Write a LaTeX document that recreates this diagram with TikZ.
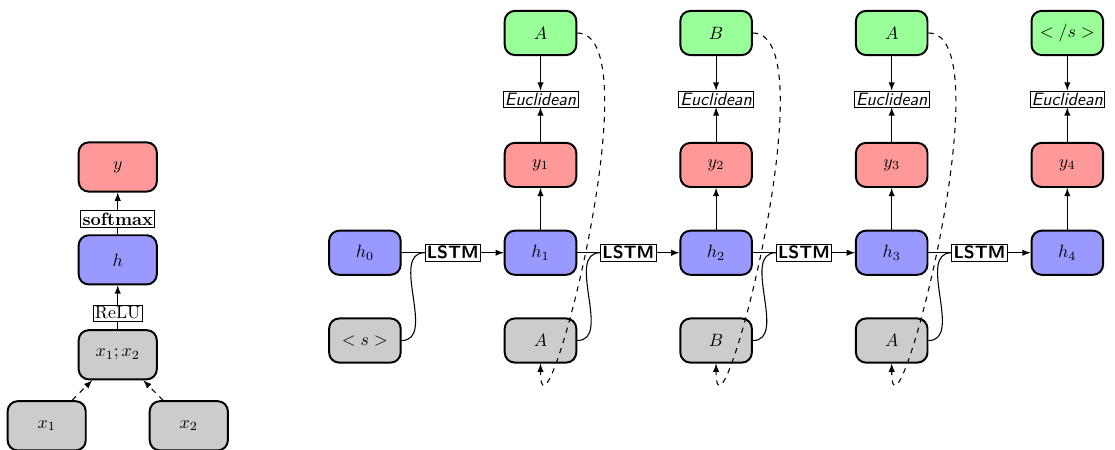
\documentclass[tikz,border=0pt]{standalone}
\usepackage{amsmath}
\usepackage{tikz}
\usetikzlibrary{positioning}

\begin{document}
\begin{tikzpicture}[>=latex,semithick,node distance=1.73cm,on grid,
    unit/.style={draw,line width=1.1pt,rounded corners=2mm,minimum width=1.41cm,minimum height=0.87cm},
    bigunit/.style={unit,minimum width=1.54cm,minimum height=0.97cm},
    hnode/.style={fill=blue!40},
    ynode/.style={fill=red!40},
    gnode/.style={fill=green!40},
    xnode/.style={fill=gray!40},
    lab/.style={draw,thin,fill=white,inner sep=1pt},
    lstm/.style={lab,font=\sffamily\bfseries},
    loss/.style={lab,font=\sffamily\itshape}]
   \useasboundingbox (-7.19,-3.88) rectangle (14.78,4.98);

   % feed-forward net
   \node[bigunit,xnode] (x_12) at (-4.87,-2.01) {$x_1;x_2$};
   \node[bigunit,hnode] (h) [above=1.87cm of x_12] {$h$};
   \node[bigunit,ynode] (y) [above=1.83cm of h] {$y$};
   \node[bigunit,xnode] (x_1) [below left=1.40cm and 1.40cm of x_12] {$x_1$};
   \node[bigunit,xnode] (x_2) [below right=1.40cm and 1.40cm of x_12] {$x_2$};

   \path[->]
    (x_1) edge[dashed] (x_12)
    (x_2) edge[dashed] (x_12)
    (x_12) edge node[lab,pos=0.37] {ReLU} (h)
    (h) edge node[lab,pos=0.37] {\textbf{softmax}} (y);

   % recurrent net
   \node[unit,hnode] (h_0) {$h_0$};
   \node[unit,xnode] (in_0) [below=of h_0] {$<s>$};
   \node[lstm] (l_1) [right=of h_0] {LSTM};
   \node[unit,hnode] (h_1) [right=of l_1] {$h_1$};
   \node[lstm] (l_2) [right=of h_1] {LSTM};
   \node[unit,hnode] (h_2) [right=of l_2] {$h_2$};
   \node[lstm] (l_3) [right=of h_2] {LSTM};
   \node[unit,hnode] (h_3) [right=of l_3] {$h_3$};
   \node[lstm] (l_4) [right=of h_3] {LSTM};
   \node[unit,hnode] (h_4) [right=of l_4] {$h_4$};

   \node[unit,xnode] (in_1) [below=of h_1] {$A$};
   \node[unit,xnode] (in_2) [below=of h_2] {$B$};
   \node[unit,xnode] (in_3) [below=of h_3] {$A$};

   \node[unit,ynode] (y_1) [above=of h_1] {$y_1$};
   \node[unit,ynode] (y_2) [above=of h_2] {$y_2$};
   \node[unit,ynode] (y_3) [above=of h_3] {$y_3$};
   \node[unit,ynode] (y_4) [above=of h_4] {$y_4$};

   \node[loss] (e_1) [above=1.30cm of y_1] {Euclidean};
   \node[loss] (e_2) [above=1.30cm of y_2] {Euclidean};
   \node[loss] (e_3) [above=1.30cm of y_3] {Euclidean};
   \node[loss] (e_4) [above=1.30cm of y_4] {Euclidean};

   \node[unit,gnode] (a_1) [above=1.30cm of e_1] {$A$};
   \node[unit,gnode] (a_2) [above=1.30cm of e_2] {$B$};
   \node[unit,gnode] (a_3) [above=1.30cm of e_3] {$A$};
   \node[unit,gnode] (a_4) [above=1.30cm of e_4] {$</s>$};

   \draw (h_0) -- (l_1);
   \draw (h_1) -- (l_2);
   \draw (h_2) -- (l_3);
   \draw (h_3) -- (l_4);
   \draw (in_0.east) to[out=0,in=180] (l_1.west);
   \draw (in_1.east) to[out=0,in=180] (l_2.west);
   \draw (in_2.east) to[out=0,in=180] (l_3.west);
   \draw (in_3.east) to[out=0,in=180] (l_4.west);

   \path[->]
    (l_1) edge (h_1)
    (l_2) edge (h_2)
    (l_3) edge (h_3)
    (l_4) edge (h_4)
    (h_1) edge (y_1)
    (h_2) edge (y_2)
    (h_3) edge (y_3)
    (h_4) edge (y_4)
    (y_1) edge (e_1)
    (y_2) edge (e_2)
    (y_3) edge (e_3)
    (y_4) edge (e_4)
    (a_1) edge (e_1)
    (a_2) edge (e_2)
    (a_3) edge (e_3)
    (a_4) edge (e_4);

   % feeding the gold output back in
   \draw[dashed,->] (a_1.east) .. controls +(1.55,0) and +(0,-2.1) .. (in_1.south);
   \draw[dashed,->] (a_2.east) .. controls +(1.55,0) and +(0,-2.1) .. (in_2.south);
   \draw[dashed,->] (a_3.east) .. controls +(1.55,0) and +(0,-2.1) .. (in_3.south);
\end{tikzpicture}
\end{document}
